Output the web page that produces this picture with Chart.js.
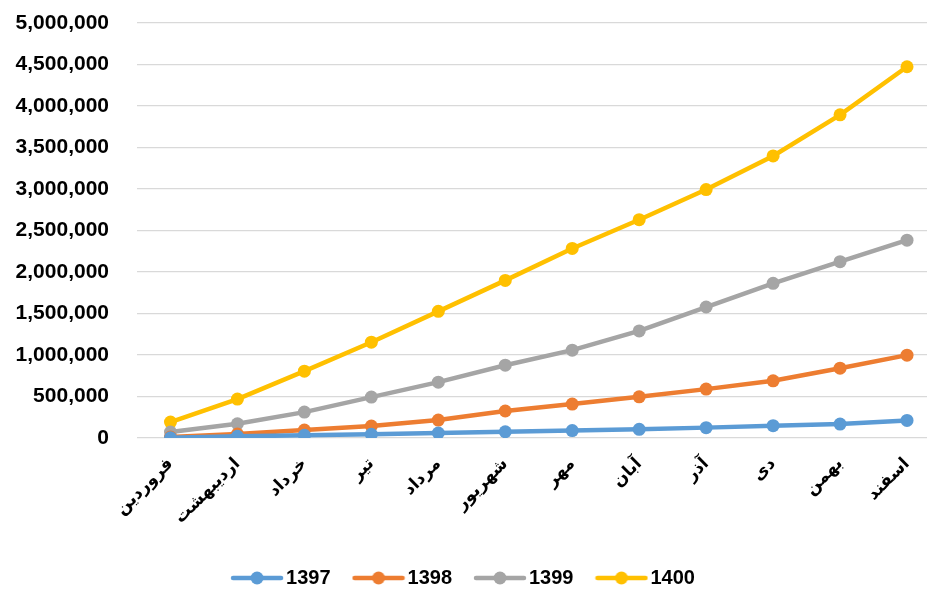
<!DOCTYPE html>
<html><head><meta charset="utf-8">
<script src="https://cdn.jsdelivr.net/npm/chart.js@4/dist/chart.umd.min.js"></script>
<style>html,body{margin:0;padding:0;overflow:hidden;background:#fff}#wrap{width:947px;height:590px;position:relative}</style>
</head><body><div id="wrap"><canvas id="c"></canvas></div>
<script>
const months = ["فروردین","اردیبهشت","خرداد","تیر","مرداد","شهریور","مهر","آبان","آذر","دی","بهمن","اسفند"];
const seriesNames = ["1397","1398","1399","1400"];
const s1397 = [3000,20000,33000,45000,60000,75000,90000,104000,125000,148000,168000,212000];
const s1398 = [12000,48000,96000,144000,216000,325000,409000,496000,589000,689000,841000,998000];
const s1399 = [72000,172000,312000,493000,673000,877000,1058000,1290000,1578000,1863000,2124000,2384000];
const s1400 = [192000,469000,805000,1154000,1526000,1899000,2284000,2630000,2993000,3398000,3894000,4473000];
const colors = ["#5B9BD5","#ED7D31","#A5A5A5","#FFC000"];

function legendIcon(color){
  const c=document.createElement('canvas'); c.width=54; c.height=14;
  const g=c.getContext('2d');
  g.strokeStyle=color; g.lineWidth=4.5; g.lineCap='round';
  g.beginPath(); g.moveTo(3,7); g.lineTo(51,7); g.stroke();
  g.fillStyle=color; g.beginPath(); g.arc(27,7,6.5,0,Math.PI*2); g.fill();
  return c;
}
const icons = colors.map(legendIcon);
const allData=[s1397,s1398,s1399,s1400];
const datasets = seriesNames.map((n,i)=>({
  label:n, data:allData[i], borderColor:colors[i], backgroundColor:colors[i],
  borderWidth:4.5, pointRadius:6.5, pointHoverRadius:6.5, pointBackgroundColor:colors[i],
  pointBorderWidth:0, tension:0, fill:false
}));
const shiftLegend = {id:'shiftLegend', afterLayout(chart){
  if(chart.legend){chart.legend.left-=12; chart.legend.right-=12;}
}};
new Chart(document.getElementById('c'),{
  type:'line',
  data:{labels:months,datasets},
  plugins:[shiftLegend],
  options:{
    responsive:true, maintainAspectRatio:false, animation:false,
    layout:{padding:{left:10,top:23,right:0,bottom:-8}},
    plugins:{
      tooltip:{enabled:false},
      legend:{position:'bottom',
        labels:{usePointStyle:true,pointStyleWidth:38,boxHeight:14,padding:29,color:'#000',
          font:{family:'Liberation Sans',size:20,weight:'bold'},
          generateLabels(chart){
            const items=Chart.defaults.plugins.legend.labels.generateLabels(chart);
            items.forEach((it,i)=>{it.pointStyle=icons[i];});
            return items;
          }}
      }
    },
    scales:{
      x:{offset:true,grid:{display:false},border:{display:false},
        afterFit(s){s.height=101;},
        ticks:{color:'#000',maxRotation:45,minRotation:45,padding:8,autoSkip:false,
          font:{family:'DejaVu Sans',size:17,weight:'bold'}}},
      y:{min:0,max:5000000,
        afterFit(s){s.width=127;},
        grid:{color:'#D9D9D9',lineWidth:1.3,drawTicks:true,tickLength:28,tickColor:'rgba(0,0,0,0)'},border:{display:false},
        ticks:{stepSize:500000,color:'#000',padding:0,
          font:{family:'Liberation Sans',size:21,weight:'bold'},
          callback:v=>v.toLocaleString('en-US')}}
    }
  }
});
</script></body></html>
